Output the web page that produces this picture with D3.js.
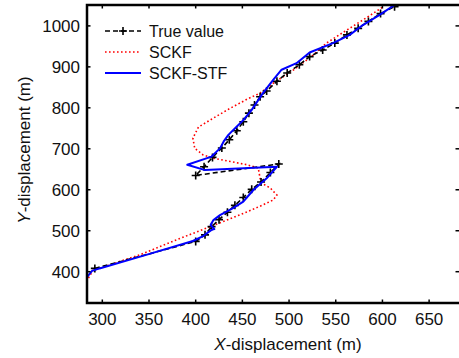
<!DOCTYPE html>
<html>
<head>
<meta charset="utf-8">
<script src="https://cdn.jsdelivr.net/npm/d3@7"></script>
<style>
  body { margin: 0; background: #fff; }
  svg text { font-family: "Liberation Sans", Arial, sans-serif; fill: #111; }
</style>
</head>
<body>
<div id="chart"></div>
<script>
// tick labels
const xTicks = [300, 350, 400, 450, 500, 550, 600, 650];
const yTicks = [400, 500, 600, 700, 800, 900, 1000];

// true trajectory (marked with +)
const trueX = [292, 400, 410, 417, 425, 434, 442, 451, 460, 470, 480, 489,
  400, 409, 418, 428, 436, 444, 451, 457, 463, 469, 476, 487, 498, 511, 522, 536, 549, 562, 574, 585, 598, 613];
const trueY = [408, 474, 490, 510, 527, 545, 562, 581, 601, 619, 642, 663,
  635, 656, 679, 702, 722, 744, 766, 787, 807, 827, 841, 865, 885, 905, 925, 941, 958, 978, 994, 1011, 1030, 1047];

// SCKF estimate
const sckfX = [283, 290, 340, 383, 419, 455, 472, 483, 487, 480, 471, 469, 467, 455, 437, 419, 408, 399, 397,
  403, 419, 437, 455, 469, 483, 505, 526, 540, 562, 585, 601];
const sckfY = [376, 403, 441, 481, 513, 546, 563, 575, 587, 604, 616, 628, 653, 661, 669, 677, 685, 701, 726,
  753, 775, 799, 821, 836, 860, 893, 929, 958, 990, 1023, 1047];

// SCKF-STF estimate
const stfX = [284, 289, 297, 347, 397, 408, 417, 420, 416, 419, 426, 440, 451, 462, 476, 487, 410, 391, 417, 426,
  430, 435, 443, 451, 460, 472, 483, 492, 508, 522, 547, 565, 579, 597, 613];
const stfY = [388, 402, 408, 441, 475, 487, 502, 504, 514, 526, 538, 555, 571, 600, 628, 656, 648, 661, 681, 701,
  718, 734, 752, 770, 795, 836, 868, 893, 909, 935, 958, 978, 1002, 1027, 1051];

const seriesNames = ["True value", "SCKF", "SCKF-STF"];

const width = 459, height = 358;
const plot = { left: 87, right: 459, top: 5, bottom: 303 };

const svg = d3.select("#chart").append("svg")
  .attr("width", width)
  .attr("height", height);

const x = d3.scaleLinear().domain([283.6, 682]).range([plot.left, plot.right]);
const y = d3.scaleLinear().domain([323.6, 1051]).range([plot.bottom, plot.top]);

svg.append("clipPath").attr("id", "clip")
  .append("rect")
  .attr("x", plot.left).attr("y", plot.top)
  .attr("width", plot.right - plot.left).attr("height", plot.bottom - plot.top);

const zip = (xs, ys) => xs.map((v, i) => [v, ys[i]]);
const line = d3.line().x(d => x(d[0])).y(d => y(d[1]));

const g = svg.append("g").attr("clip-path", "url(#clip)");

g.append("path")
  .datum(zip(sckfX, sckfY))
  .attr("d", line)
  .attr("fill", "none")
  .attr("stroke", "#ff0000")
  .attr("stroke-width", 1.6)
  .attr("stroke-dasharray", "1.6,2.4");

g.append("path")
  .datum(zip(trueX, trueY))
  .attr("d", line)
  .attr("fill", "none")
  .attr("stroke", "#000")
  .attr("stroke-width", 1.6)
  .attr("stroke-dasharray", "5,3");

const cross = "M-4,0H4M0,-4V4";
g.selectAll(".mark")
  .data(zip(trueX, trueY))
  .enter().append("path")
  .attr("class", "mark")
  .attr("transform", d => `translate(${x(d[0])},${y(d[1])})`)
  .attr("d", cross)
  .attr("stroke", "#000")
  .attr("stroke-width", 1.6);

g.append("path")
  .datum(zip(stfX, stfY))
  .attr("d", line)
  .attr("fill", "none")
  .attr("stroke", "#0000ff")
  .attr("stroke-width", 2)
  .attr("stroke-linejoin", "round");

// axes: inward ticks on all four sides
const tickLen = 3.5;
const axisG = svg.append("g").attr("stroke", "#000");

xTicks.forEach(t => {
  axisG.append("line").attr("x1", x(t)).attr("x2", x(t))
    .attr("y1", plot.bottom).attr("y2", plot.bottom - tickLen).attr("stroke-width", 1.5);
  axisG.append("line").attr("x1", x(t)).attr("x2", x(t))
    .attr("y1", plot.top).attr("y2", plot.top + tickLen).attr("stroke-width", 1.5);
});
yTicks.forEach(t => {
  axisG.append("line").attr("x1", plot.left).attr("x2", plot.left + tickLen)
    .attr("y1", y(t)).attr("y2", y(t)).attr("stroke-width", 1.5);
  axisG.append("line").attr("x1", plot.right).attr("x2", plot.right - tickLen)
    .attr("y1", y(t)).attr("y2", y(t)).attr("stroke-width", 1.5);
});

// frame (right side falls on the page edge)
axisG.append("path")
  .attr("d", `M${plot.right + 2},${plot.top}H${plot.left}V${plot.bottom}H${plot.right + 2}`)
  .attr("fill", "none")
  .attr("stroke-width", 2.5);

svg.append("g").selectAll("text")
  .data(xTicks)
  .enter().append("text")
  .attr("x", d => x(d))
  .attr("y", 325)
  .attr("text-anchor", "middle")
  .attr("font-size", 17)
  .text(d => d);

svg.append("g").selectAll("text")
  .data(yTicks)
  .enter().append("text")
  .attr("x", 80)
  .attr("y", d => y(d))
  .attr("dy", "0.36em")
  .attr("text-anchor", "end")
  .attr("font-size", 17)
  .text(d => d);

const xTitle = svg.append("text")
  .attr("x", 288)
  .attr("y", 350)
  .attr("text-anchor", "middle")
  .attr("font-size", 17);
xTitle.append("tspan").attr("font-style", "italic").text("X");
xTitle.append("tspan").text("-displacement (m)");

const yTitle = svg.append("text")
  .attr("transform", "translate(30,150) rotate(-90)")
  .attr("text-anchor", "middle")
  .attr("font-size", 17);
yTitle.append("tspan").attr("font-style", "italic").text("Y");
yTitle.append("tspan").text("-displacement (m)");

// legend
const legend = svg.append("g");
const rowY = [31, 52, 73];
const lx0 = 105, lx1 = 141;

legend.append("line").attr("x1", lx0).attr("x2", lx1).attr("y1", rowY[0]).attr("y2", rowY[0])
  .attr("stroke", "#000").attr("stroke-width", 1.6).attr("stroke-dasharray", "5,3");
legend.append("path").attr("transform", `translate(${(lx0 + lx1) / 2},${rowY[0]})`)
  .attr("d", cross).attr("stroke", "#000").attr("stroke-width", 1.6);
legend.append("line").attr("x1", lx0).attr("x2", lx1).attr("y1", rowY[1]).attr("y2", rowY[1])
  .attr("stroke", "#ff0000").attr("stroke-width", 1.6).attr("stroke-dasharray", "1.6,2.4");
legend.append("line").attr("x1", lx0).attr("x2", lx1).attr("y1", rowY[2]).attr("y2", rowY[2])
  .attr("stroke", "#0000ff").attr("stroke-width", 2);

legend.selectAll("text")
  .data(seriesNames)
  .enter().append("text")
  .attr("x", 149)
  .attr("y", (d, i) => rowY[i])
  .attr("dy", "0.36em")
  .attr("font-size", 16)
  .text(d => d);
</script>
</body>
</html>
